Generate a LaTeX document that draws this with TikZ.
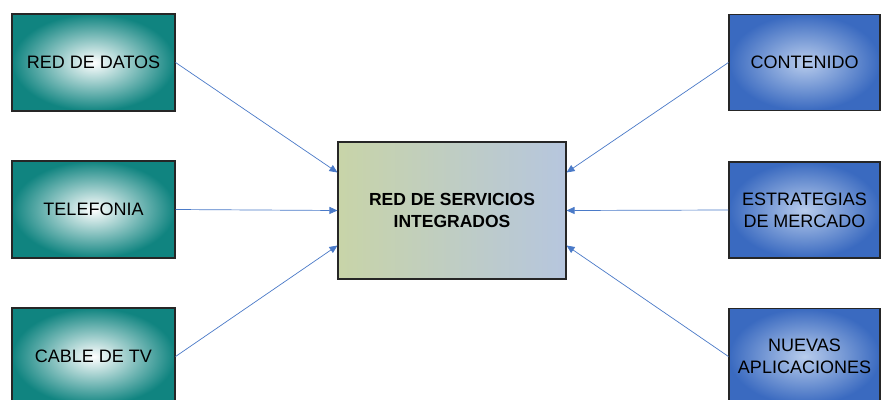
\documentclass[tikz,border=0pt]{standalone}
\usepackage{fontspec}
\setmainfont{Liberation Sans}
\usepackage{tikz}
\usetikzlibrary{arrows.meta}
\usetikzlibrary{positioning}
\definecolor{tealout}{RGB}{16,132,128}
\definecolor{blueout}{RGB}{58,106,192}
\definecolor{bluein}{RGB}{184,204,236}
\definecolor{olivebox}{RGB}{200,212,168}
\definecolor{bluebox}{RGB}{182,198,222}
\definecolor{arrowblue}{RGB}{74,122,200}
\tikzstyle{fuente}=[draw=black!85,line width=1.1pt,rectangle,minimum width=163pt,minimum height=97pt,inner sep=1pt,align=center,font=\fontsize{18}{22}\selectfont,shading=radial,inner color=white,outer color=tealout]
\tikzstyle{factor}=[draw=black!85,line width=1.1pt,rectangle,minimum width=151pt,minimum height=96pt,inner sep=1pt,align=center,font=\fontsize{18}{22}\selectfont,shading=radial,inner color=bluein,outer color=blueout]
\begin{document}
\begin{tikzpicture}[x=1pt,y=-1pt]
\tikzstyle{flecha}=[draw=arrowblue,line width=0.7pt,-{Triangle[length=8pt,width=7pt]}]
\clip (0,0) rectangle (882,399);
\fill[white] (0,0) rectangle (882,399);
    \node [fuente] (datos) at (93.5,62.5) {RED DE DATOS};
    \node [fuente] (telefonia) at (93.5,209.5) {TELEFONIA};
    \node [fuente] (cable) at (93.5,356.5) {CABLE DE TV};
    \node [factor] (contenido) at (804.5,62.5) {CONTENIDO};
    \node [factor] (estrategias) at (804.5,210) {ESTRATEGIAS\\DE MERCADO};
    \node [factor] (nuevas) at (804.5,356.5) {NUEVAS\\APLICACIONES};
    \node [draw=black!85,line width=1.1pt,rectangle,minimum width=228pt,minimum height=137pt,align=center,
      left color=olivebox,right color=bluebox,font=\bfseries\fontsize{17.5}{22}\selectfont] (red) at (452,210.5) {RED DE SERVICIOS\\INTEGRADOS};

\draw [flecha] (datos.east) -- ([yshift=38pt]red.west);
\draw [flecha] (telefonia.east) -- (red.west);
\draw [flecha] (cable.east) -- ([yshift=-35pt]red.west);
\draw [flecha] (contenido.west) -- ([yshift=38pt]red.east);
\draw [flecha] (estrategias.west) -- (red.east);
\draw [flecha] (nuevas.west) -- ([yshift=-35pt]red.east);
\end{tikzpicture}
\end{document}
